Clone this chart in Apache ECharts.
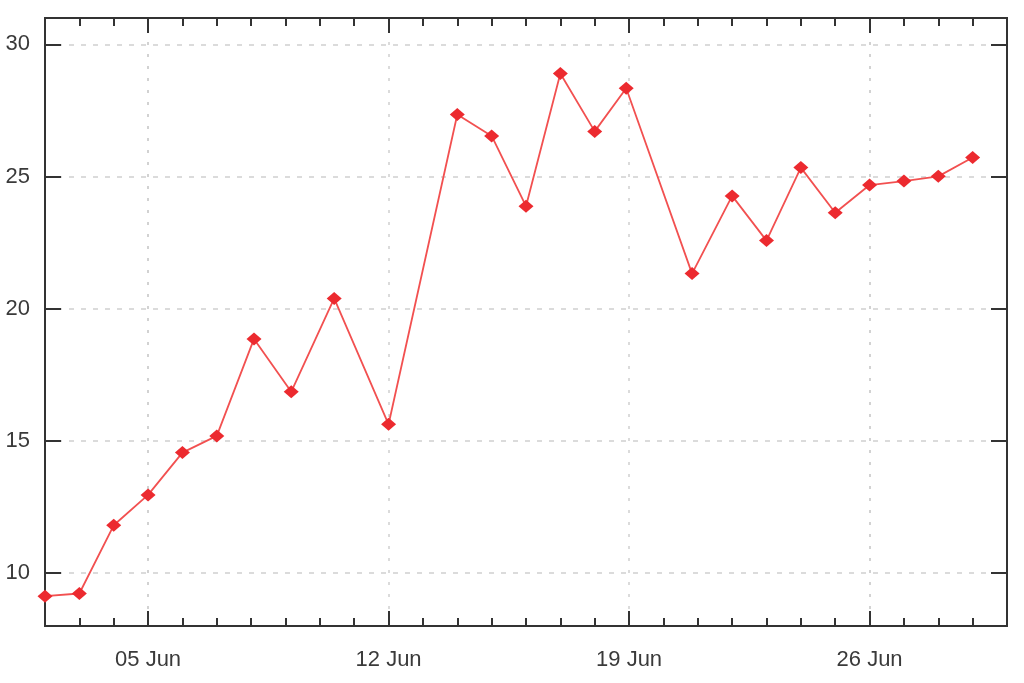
<!DOCTYPE html>
<html>
<head>
<meta charset="utf-8">
<script src="https://cdn.jsdelivr.net/npm/echarts@6/dist/echarts.min.js"></script>
<style>
  html, body { margin: 0; padding: 0; background: #fff; }
  #chart { width: 1024px; height: 683px; }
</style>
</head>
<body>
<div id="chart"></div>
<script>
// readings, one per sample
const times = [
  '2013-06-02 00:00', '2013-06-03 00:00', '2013-06-04 00:00', '2013-06-05 00:00',
  '2013-06-06 00:00', '2013-06-07 00:00', '2013-06-08 02:00', '2013-06-09 04:00',
  '2013-06-10 10:00', '2013-06-12 00:00', '2013-06-14 00:00', '2013-06-15 00:00',
  '2013-06-16 00:00', '2013-06-17 00:00', '2013-06-18 00:00', '2013-06-18 22:00',
  '2013-06-20 20:00', '2013-06-22 00:00', '2013-06-23 00:00', '2013-06-24 00:00',
  '2013-06-25 00:00', '2013-06-26 00:00', '2013-06-27 00:00', '2013-06-28 00:00',
  '2013-06-29 00:00'
]
const values = [
  9.13, 9.23, 11.81, 12.96, 14.56, 15.19, 18.86, 16.86, 20.39, 15.63,
  27.35, 26.54, 23.88, 28.9, 26.71, 28.34, 21.33, 24.27, 22.58, 25.34,
  23.63, 24.68, 24.83, 25.01, 25.72
]
const xStart = '2013-06-02 00:00'
const xEnd = '2013-06-30 00:00'
const weekTicks = ['2013-06-05', '2013-06-12', '2013-06-19', '2013-06-26']
const yTicks = [10, 15, 20, 25, 30]

// daily minor ticks
let dayTicks = []
for (let d = 3; d <= 29; d++) {
  dayTicks.push('2013-06-' + (d < 10 ? '0' + d : d))
}
const toMs = s => new Date(s.replace(' ', 'T')).getTime()

const axisLine = { show: true, lineStyle: { color: '#333', width: 2 } }
const labelFont = { color: '#3a3a3a', fontSize: 22, fontFamily: 'Liberation Sans, Arial, sans-serif' }

function xAxisOf (position, ticks, len, showLabel, grid) {
  return {
    type: 'time',
    position: position,
    min: toMs(xStart),
    max: toMs(xEnd),
    axisLine: axisLine,
    axisTick: { show: true, inside: true, length: len, customValues: ticks.map(toMs), lineStyle: { color: '#333', width: 2 } },
    axisLabel: showLabel ? Object.assign({ show: true, customValues: ticks.map(toMs), margin: 23, formatter: '{dd} {MMM}', hideOverlap: false }, labelFont) : { show: false },
    splitLine: { show: grid, lineStyle: { color: '#cfcfcf', type: [3, 9], width: 1.5 } }
  }
}

function yAxisOf (position, showLabel, grid) {
  return {
    type: 'value',
    position: position,
    min: 8,
    max: 31,
    axisLine: axisLine,
    axisTick: { show: true, inside: true, length: 16, customValues: yTicks, lineStyle: { color: '#333', width: 2 } },
    axisLabel: showLabel ? Object.assign({ show: true, customValues: yTicks, margin: 15 }, labelFont) : { show: false },
    splitLine: { show: grid, lineStyle: { color: '#cfcfcf', type: [5, 7], width: 1.5 } }
  }
}

let myChart = echarts.init(document.getElementById('chart'))
let option = {
  backgroundColor: '#fff',
  animation: false,
  grid: { left: 45, right: 17, top: 18, bottom: 57, containLabel: false },
  xAxis: [
    xAxisOf('bottom', weekTicks, 15, true, true),
    xAxisOf('bottom', dayTicks, 8, false, false),
    xAxisOf('top', weekTicks, 15, false, false),
    xAxisOf('top', dayTicks, 8, false, false)
  ],
  yAxis: [
    yAxisOf('left', true, true),
    yAxisOf('right', false, false)
  ],
  series: [
    {
      type: 'line',
      xAxisIndex: 0,
      yAxisIndex: 0,
      data: times.map((t, i) => [toMs(t), values[i]]),
      symbol: 'diamond',
      symbolSize: [15, 13],
      showAllSymbol: true,
      lineStyle: { color: '#f25050', width: 1.8 },
      itemStyle: { color: '#ec2a2f' }
    }
  ]
}
myChart.setOption(option, true)
</script>
</body>
</html>
